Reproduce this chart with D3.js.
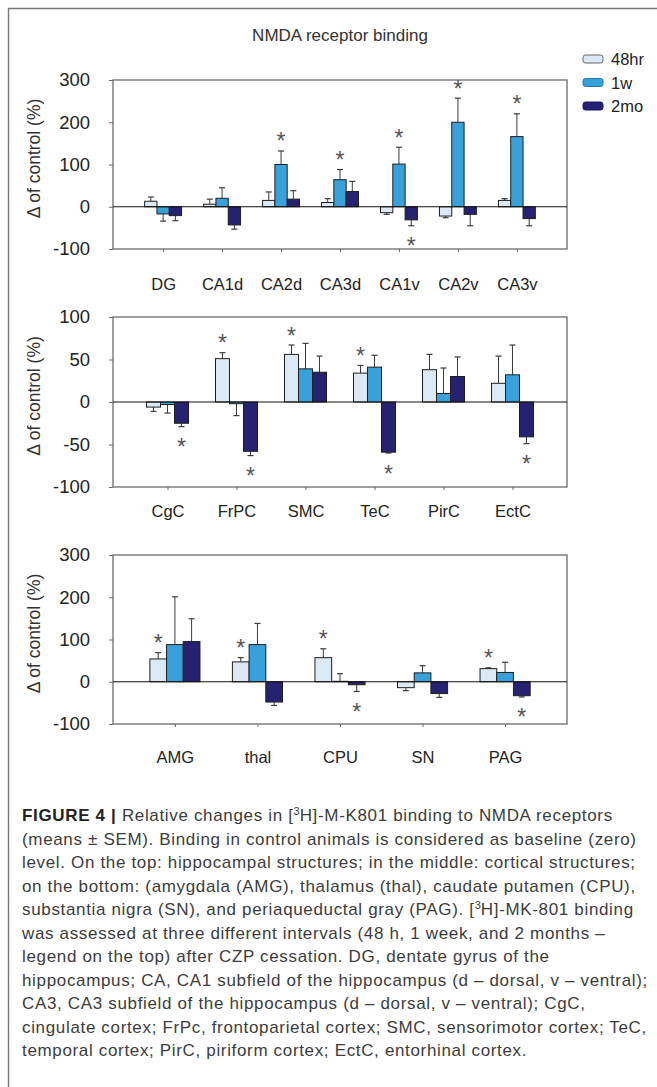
<!DOCTYPE html>
<html>
<head>
<meta charset="utf-8">
<script src="https://cdn.jsdelivr.net/npm/d3@7"></script>
<style>
html,body{margin:0;padding:0;background:#fff;}
svg{display:block;}
text{font-family:"Liberation Sans",Arial,sans-serif;}
</style>
</head>
<body>
<svg id="chart" width="657" height="1087"></svg>
<script>
// ---------- data ----------
const seriesNames = ["48hr", "1w", "2mo"];
const chartTitle = "NMDA receptor binding";
const yAxisTitle = "Δ of control (%)";

// top panel: hippocampal structures
const hippoCats = ["DG", "CA1d", "CA2d", "CA3d", "CA1v", "CA2v", "CA3v"];
const hippo48hr = [13, 6, 15, 10, -14, -22, 15];
const hippo48hrSem = [10, 12, 20, 9, 4, 4, 4];
const hippo1w = [-17, 20, 100, 64, 101, 200, 166];
const hippo1wSem = [17, 25, 32, 24, 40, 57, 54];
const hippo2mo = [-21, -43, 18, 36, -31, -18, -28];
const hippo2moSem = [12, 10, 20, 24, 14, 27, 17];
const hippoSig48hr = [];
const hippoSig1w = ["CA2d", "CA3d", "CA1v", "CA2v", "CA3v"];
const hippoSig2mo = ["CA1v"];
const hippoTicks = [-100, 0, 100, 200, 300];

// middle panel: cortical structures
const cortexCats = ["CgC", "FrPC", "SMC", "TeC", "PirC", "EctC"];
const cortex48hr = [-6, 51, 56, 34, 38, 22];
const cortex48hrSem = [5, 7, 11, 9, 18, 32];
const cortex1w = [-3, -2, 39, 41, 10, 32];
const cortex1wSem = [10, 14, 30, 14, 30, 35];
const cortex2mo = [-25, -58, 35, -59, 30, -41];
const cortex2moSem = [4, 5, 19, 1, 23, 8];
const cortexSig48hr = ["FrPC", "SMC", "TeC"];
const cortexSig1w = [];
const cortexSig2mo = ["CgC", "FrPC", "TeC", "EctC"];
const cortexTicks = [-100, -50, 0, 50, 100];

// bottom panel: subcortical structures
const subCats = ["AMG", "thal", "CPU", "SN", "PAG"];
const sub48hr = [54, 47, 57, -14, 31];
const sub48hrSem = [15, 10, 21, 7, 2];
const sub1w = [88, 88, 1, 21, 22];
const sub1wSem = [113, 50, 18, 17, 24];
const sub2mo = [95, -48, -7, -28, -33];
const sub2moSem = [54, 8, 16, 9, 3];
const subSig48hr = ["AMG", "thal", "CPU", "PAG"];
const subSig1w = [];
const subSig2mo = ["CPU", "PAG"];
const subTicks = [-100, 0, 100, 200, 300];

const captionLines = [
  [{b:"FIGURE 4 | "}, {t:"Relative changes in ["}, {s:"3"}, {t:"H]-M-K801 binding to NMDA receptors"}],
  [{t:"(means ± SEM). Binding in control animals is considered as baseline (zero)"}],
  [{t:"level. On the top: hippocampal structures; in the middle: cortical structures;"}],
  [{t:"on the bottom: (amygdala (AMG), thalamus (thal), caudate putamen (CPU),"}],
  [{t:"substantia nigra (SN), and periaqueductal gray (PAG). ["}, {s:"3"}, {t:"H]-MK-801 binding"}],
  [{t:"was assessed at three different intervals (48 h, 1 week, and 2 months –"}],
  [{t:"legend on the top) after CZP cessation. DG, dentate gyrus of the"}],
  [{t:"hippocampus; CA, CA1 subfield of the hippocampus (d – dorsal, v – ventral);"}],
  [{t:"CA3, CA3 subfield of the hippocampus (d – dorsal, v – ventral); CgC,"}],
  [{t:"cingulate cortex; FrPc, frontoparietal cortex; SMC, sensorimotor cortex; TeC,"}],
  [{t:"temporal cortex; PirC, piriform cortex; EctC, entorhinal cortex."}]
];

// ---------- styling ----------
const colors = ["#dce9f5", "#39a1d9", "#262170"];
const legendStroke = ["#666", "#1f78b4", "#1a1660"];
const svg = d3.select("#chart");

// outer frame (left + top)
svg.append("path").attr("d", "M8.5,1087 L8.5,8.5 L657,8.5")
  .attr("fill", "none").attr("stroke", "#777").attr("stroke-width", 1.4);

svg.append("text").attr("x", 340).attr("y", 41).attr("text-anchor", "middle")
  .attr("font-size", 17).attr("fill", "#333").text(chartTitle);

// legend
const legend = svg.append("g");
seriesNames.forEach((n, i) => {
  const y = 59 + i * 23.5;
  legend.append("rect").attr("x", 583).attr("y", y - 4).attr("width", 20).attr("height", 8)
    .attr("rx", 2.5).attr("fill", colors[i]).attr("stroke", legendStroke[i]).attr("stroke-width", 1);
  legend.append("text").attr("x", 611).attr("y", y + 6).attr("font-size", 16.5).attr("fill", "#222").text(n);
});

function panel(cfg) {
  const x0 = 113, x1 = 567;
  const xs = d3.scalePoint().domain(cfg.cats).range([x0, x1]).padding(cfg.pad);
  const ys = d3.scaleLinear().domain([cfg.ticks[0], cfg.ticks[cfg.ticks.length - 1]]).range([cfg.y1, cfg.y0]);
  const g = svg.append("g");

  g.append("rect").attr("x", x0).attr("y", cfg.y0).attr("width", x1 - x0).attr("height", cfg.y1 - cfg.y0)
    .attr("fill", "none").attr("stroke", "#6a6a6a").attr("stroke-width", 1.3);

  const yAxis = d3.axisLeft(ys).tickValues(cfg.ticks).tickSize(4).tickPadding(19).tickFormat(d => String(d));
  const ya = g.append("g").attr("transform", `translate(${x0},0)`).call(yAxis);
  ya.select(".domain").remove();
  ya.selectAll("line").attr("stroke", "#6a6a6a");
  ya.selectAll("text").attr("font-size", 18.5).attr("fill", "#222").attr("font-family", "Liberation Sans, Arial, sans-serif");

  const xAxis = d3.axisBottom(xs).tickSize(3).tickPadding(cfg.labelPad);
  const xa = g.append("g").attr("transform", `translate(0,${cfg.y1})`).call(xAxis);
  xa.select(".domain").remove();
  xa.selectAll("line").attr("stroke", "#6a6a6a");
  xa.selectAll("text").attr("font-size", 16.5).attr("fill", "#222").attr("font-family", "Liberation Sans, Arial, sans-serif");

  g.append("text").attr("transform", `translate(40,${(cfg.y0 + cfg.y1) / 2 - 6}) rotate(-90)`)
    .attr("text-anchor", "middle").attr("font-size", 17.5).attr("fill", "#333").text(yAxisTitle);

  const bw = cfg.bw;
  const z = ys(0);
  cfg.series.forEach((s, si) => {
    const off = (si - 1) * bw;
    const data = cfg.cats.map((c, i) => ({c, v: s.vals[i], e: s.sem[i], sig: s.sig.includes(c)}));
    data.forEach(d => {
      const cx = xs(d.c) + off;
      const end = d.v >= 0 ? d.v + d.e : d.v - d.e;
      g.append("line").attr("x1", cx).attr("x2", cx).attr("y1", ys(d.v)).attr("y2", ys(end))
        .attr("stroke", "#3a3a3a").attr("stroke-width", 1);
      g.append("line").attr("x1", cx - 3).attr("x2", cx + 3).attr("y1", ys(end)).attr("y2", ys(end))
        .attr("stroke", "#3a3a3a").attr("stroke-width", 1.2);
      if (d.sig) {
        const cy = d.v >= 0 ? ys(end) - 15 : ys(end) + 15;
        g.append("text").attr("x", cx).attr("y", cy + 13.5).attr("text-anchor", "middle")
          .attr("font-size", 23).attr("fill", "#555").text("*");
      }
    });
    g.selectAll(null).data(data).enter().append("rect")
      .attr("x", d => xs(d.c) + off - bw / 2)
      .attr("width", bw)
      .attr("y", d => Math.min(ys(d.v), z))
      .attr("height", d => Math.abs(ys(d.v) - z))
      .attr("fill", colors[si])
      .attr("stroke", "#1e1e1e").attr("stroke-width", 1);
  });

  g.append("line").attr("x1", x0).attr("x2", x1).attr("y1", z).attr("y2", z)
    .attr("stroke", "#111").attr("stroke-width", 1.2);
}

panel({cats: hippoCats, ticks: hippoTicks, y0: 80, y1: 249, pad: 0.85, bw: 12.3, labelPad: 26,
  series: [
    {vals: hippo48hr, sem: hippo48hrSem, sig: hippoSig48hr},
    {vals: hippo1w, sem: hippo1wSem, sig: hippoSig1w},
    {vals: hippo2mo, sem: hippo2moSem, sig: hippoSig2mo}]});

panel({cats: cortexCats, ticks: cortexTicks, y0: 317, y1: 487, pad: 0.79, bw: 14, labelPad: 15,
  series: [
    {vals: cortex48hr, sem: cortex48hrSem, sig: cortexSig48hr},
    {vals: cortex1w, sem: cortex1wSem, sig: cortexSig1w},
    {vals: cortex2mo, sem: cortex2moSem, sig: cortexSig2mo}]});

panel({cats: subCats, ticks: subTicks, y0: 555, y1: 724, pad: 0.75, bw: 16.7, labelPad: 24,
  series: [
    {vals: sub48hr, sem: sub48hrSem, sig: subSig48hr},
    {vals: sub1w, sem: sub1wSem, sig: subSig1w},
    {vals: sub2mo, sem: sub2moSem, sig: subSig2mo}]});

// caption
const capFamily = "'Liberation Sans', Arial, sans-serif";
const capBase = 17;
const capTexts = captionLines.map((line, li) => {
  const t = svg.append("text").attr("x", 22).attr("y", 821 + li * 23.5)
    .attr("font-family", capFamily).attr("font-size", capBase).attr("fill", "#3c3c3c");
  line.forEach((part, pi) => {
    if (part.b) t.append("tspan").attr("font-weight", "bold").attr("fill", "#222").text(part.b);
    else if (part.s) t.append("tspan").attr("class", "sup").attr("dy", -6).text(part.s);
    else {
      const sp = t.append("tspan").text(part.t);
      const prev = line[pi - 1];
      if (prev && prev.s) sp.attr("dy", 6);
    }
  });
  return t;
});
// fit caption width to the reference block width (line 3 spans 22 → 635)
const w3 = capTexts[2].node().getComputedTextLength();
const ls = (613 - w3) / (captionLines[2][0].t.length - 1);
capTexts.forEach(t => t.attr("letter-spacing", ls.toFixed(2)));
svg.selectAll("tspan.sup").attr("font-size", 11).attr("letter-spacing", 0);
</script>
</body>
</html>
